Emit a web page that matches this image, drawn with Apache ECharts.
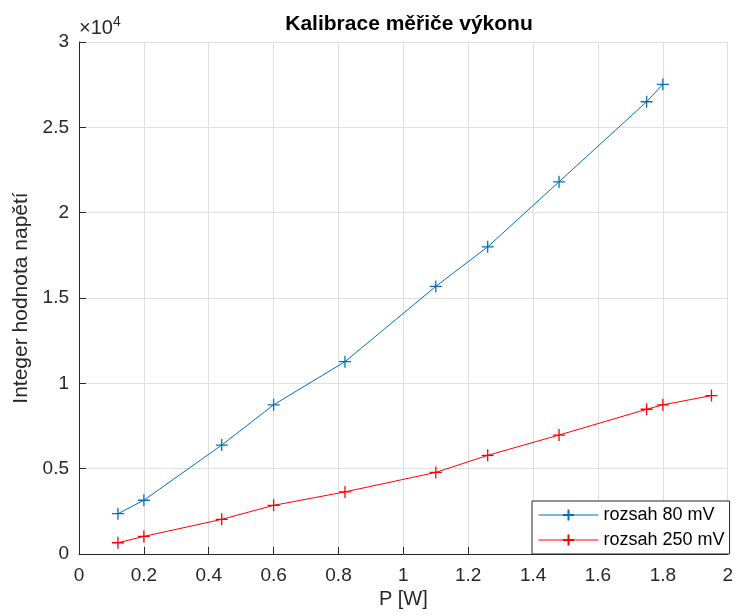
<!DOCTYPE html>
<html>
<head>
<meta charset="utf-8">
<script src="https://cdn.jsdelivr.net/npm/echarts@6/dist/echarts.min.js"></script>
<style>html,body{margin:0;padding:0;background:#fff}#c{width:736px;height:615px}</style>
</head>
<body>
<div id="c"></div>
<script>
var titleText = 'Kalibrace měřiče výkonu';
var xName = 'P [W]';
var yName = 'Integer hodnota napětí';
var seriesNames = ['rozsah 80 mV', 'rozsah 250 mV'];
var x80 = [0.12, 0.2, 0.44, 0.6, 0.82, 1.1, 1.26, 1.48, 1.75, 1.8];
var y80 = [2360, 3150, 6380, 8740, 11270, 15680, 18000, 21810, 26500, 27520];
var x250 = [0.12, 0.2, 0.44, 0.6, 0.82, 1.1, 1.26, 1.48, 1.75, 1.8, 1.95];
var y250 = [660, 1030, 2030, 2850, 3640, 4780, 5780, 6970, 8480, 8740, 9280];
var yScaleExp = 4;

function pairs(xs, ys) { return xs.map(function (x, i) { return [x, ys[i]]; }); }

var FONT = '"Liberation Sans", Arial, Helvetica, sans-serif';
var TXT = '#262626';
var plus = 'path://M0,5L10,5M5,0L5,10';

var chart = echarts.init(document.getElementById('c'), null, {renderer: 'canvas'});
chart.setOption({
  animation: false,
  backgroundColor: '#ffffff',
  textStyle: {fontFamily: FONT},
  title: [{
    text: titleText,
    left: 404, top: 9, textAlign: 'center',
    textStyle: {fontFamily: FONT, fontSize: 21, fontWeight: 'bold', color: '#000'}
  }],
  graphic: [{
    type: 'text', left: 79, top: 15, silent: true,
    style: {
      text: '{b|×10}{s|' + yScaleExp + '}',
      rich: {
        b: {fontFamily: FONT, fontSize: 20, fill: TXT, verticalAlign: 'bottom', lineHeight: 23},
        s: {fontFamily: FONT, fontSize: 14, fill: TXT, verticalAlign: 'top', lineHeight: 23}
      }
    }
  }],
  grid: {left: 79, right: 7, top: 42, bottom: 61, containLabel: false},
  legend: {
    orient: 'vertical',
    left: 532, top: 501,
    padding: [5, 5, 5, 6],
    itemGap: 7,
    itemWidth: 60, itemHeight: 14,
    borderColor: TXT, borderWidth: 1, borderRadius: 0,
    backgroundColor: '#fff',
    lineStyle: {width: 1},
    textStyle: {fontFamily: FONT, fontSize: 18, color: '#000'},
    data: seriesNames
  },
  xAxis: {
    type: 'value', min: 0, max: 2, interval: 0.2,
    name: xName, nameLocation: 'middle', nameGap: 35,
    nameTextStyle: {fontFamily: FONT, fontSize: 20, color: TXT},
    axisLine: {show: true, onZero: false, lineStyle: {color: TXT, width: 1}},
    axisTick: {show: true, inside: true, length: 7, lineStyle: {color: TXT}},
    axisLabel: {fontFamily: FONT, fontSize: 19, color: TXT, margin: 12},
    splitLine: {show: true, lineStyle: {color: '#dfdfdf', width: 1}}
  },
  yAxis: {
    type: 'value', min: 0, max: 30000, interval: 5000,
    name: yName, nameLocation: 'middle', nameGap: 46,
    nameTextStyle: {fontFamily: FONT, fontSize: 21, color: TXT},
    axisLine: {show: true, onZero: false, lineStyle: {color: TXT, width: 1}},
    axisTick: {show: true, inside: true, length: 7, lineStyle: {color: TXT}},
    axisLabel: {fontFamily: FONT, fontSize: 19, color: TXT, margin: 10,
      formatter: function (v) { return String(+(v / Math.pow(10, yScaleExp)).toFixed(2)); }},
    splitLine: {show: true, lineStyle: {color: '#dfdfdf', width: 1}}
  },
  series: [{
    name: seriesNames[0], type: 'line',
    data: pairs(x80, y80),
    symbol: plus, symbolSize: 12, showSymbol: true,
    color: '#0072BD',
    lineStyle: {color: '#0072BD', width: 1},
    itemStyle: {color: '#0072BD', borderColor: '#0072BD', borderWidth: 1.3},
    emphasis: {disabled: true}
  }, {
    name: seriesNames[1], type: 'line',
    data: pairs(x250, y250),
    symbol: plus, symbolSize: 12, showSymbol: true,
    color: '#FF0000',
    lineStyle: {color: '#FF0000', width: 1},
    itemStyle: {color: '#FF0000', borderColor: '#FF0000', borderWidth: 1.3},
    emphasis: {disabled: true}
  }]
});
</script>
</body>
</html>
